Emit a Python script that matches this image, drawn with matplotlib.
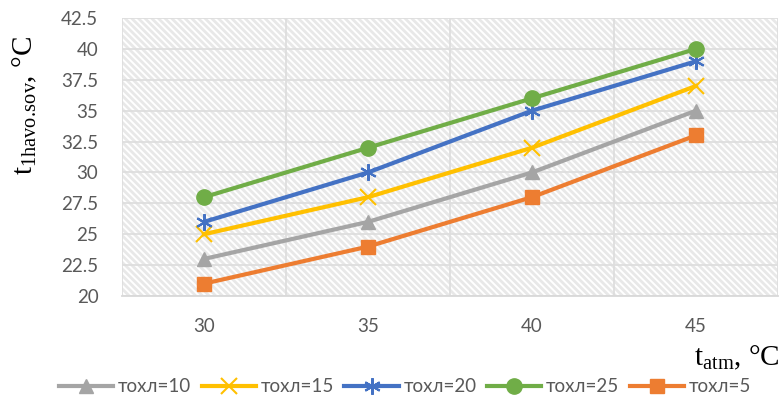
import matplotlib
matplotlib.use("Agg")
import matplotlib.pyplot as plt

# Data
t_atm = ["30", "35", "40", "45"]
t_10 = [23, 26, 30, 35]
t_15 = [25, 28, 32, 37]
t_20 = [26, 30, 35, 39]
t_25 = [28, 32, 36, 40]
t_5 = [21, 24, 28, 33]

plt.rcParams['mathtext.fontset'] = 'custom'
plt.rcParams['mathtext.rm'] = 'Liberation Serif'
plt.rcParams['hatch.linewidth'] = 2.0

fig = plt.figure(figsize=(7.79, 4.01), dpi=100)
ax = fig.add_axes([0.1566, 0.2618, 0.842, 0.6932])

x = range(len(t_atm))
ax.plot(x, t_10, color='#A5A5A5', lw=3, marker='^', ms=10, label='тохл=10')
ax.plot(x, t_15, color='#FFC000', lw=3, marker='x', ms=11, mew=1.5, label='тохл=15')
ax.plot(x, t_20, color='#4472C4', lw=3, marker=(6, 2, 0), ms=12, mew=1.5, label='тохл=20')
ax.plot(x, t_25, color='#70AD47', lw=3, marker='o', ms=11, label='тохл=25')
ax.plot(x, t_5, color='#ED7D31', lw=3, marker='s', ms=10, label='тохл=5')

# hatched background
ax.patch.set_facecolor('white')
ax.patch.set_hatch('\\\\\\\\\\')
ax.patch.set_edgecolor('#e8e8e8')
ax.patch.set_linewidth(0)

ax.set_xlim(-0.5, 3.5)
ax.set_ylim(20, 42.5)
ax.set_xticks(list(x))
ax.set_xticklabels(t_atm)
ax.set_xticks([-0.5 + 0.5 * i for i in range(9)], minor=True)
ax.set_yticks([20 + 2.5 * i for i in range(10)])
ax.set_yticklabels(['20', '22.5', '25', '27.5', '30', '32.5', '35', '37.5', '40', '42.5'])
ax.grid(True, which='minor', axis='x', color='#dedede', lw=1.3)
ax.grid(True, which='major', axis='y', color='#dedede', lw=1.3)
ax.set_axisbelow(True)
ax.tick_params(which='both', length=0, labelsize=13.5, labelcolor='#595959', pad=17)
ax.tick_params(axis='x', pad=16)
for lbl in ax.get_xticklabels() + ax.get_yticklabels():
    lbl.set_fontfamily('Lato')
for s in ['top', 'right', 'left']:
    ax.spines[s].set_visible(False)
ax.spines['bottom'].set_color('#d9d9d9')
ax.spines['bottom'].set_linewidth(1.3)

fig.text(0.032, 0.738, r'$\mathrm{t_{1havo.\!sov}}$, °C', rotation=90, ha='center', va='center',
         fontsize=21, family='Liberation Serif')
fig.text(0.946, 0.107, r'$\mathrm{t_{atm}}$, °C', ha='center', va='center',
         fontsize=21, family='Liberation Serif')

leg = fig.legend(loc='center', bbox_to_anchor=(0.52, 0.035), ncol=5, frameon=False,
                 handlelength=2.9, handletextpad=0.25, columnspacing=0.55,
                 prop={'family': 'Lato', 'size': 13.5})
for t in leg.get_texts():
    t.set_color('#595959')

fig.savefig('out.png', dpi=100)
